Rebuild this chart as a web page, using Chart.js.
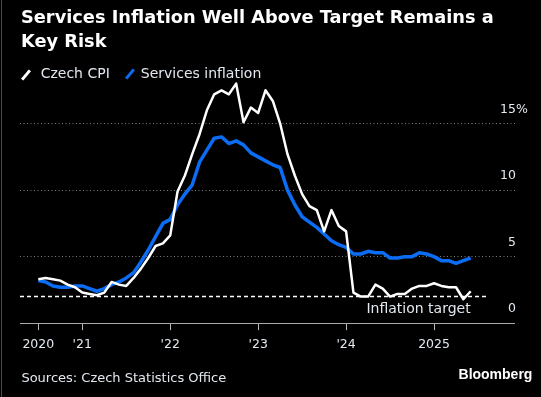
<!DOCTYPE html>
<html>
<head>
<meta charset="utf-8">
<script src="https://cdn.jsdelivr.net/npm/chart.js@4.4.1/dist/chart.umd.min.js"></script>
<style>
html,body{margin:0;padding:0;background:#000;}
#wrap{position:relative;width:541px;height:397px;overflow:hidden;background:#000;}
#c{position:absolute;left:0;top:0;}
.t{position:absolute;white-space:nowrap;margin:0;}
#title{left:21px;top:5.4px;font:bold 17.8px/23.8px 'DejaVu Sans';color:#fff;}
.lg{top:65.9px;font:14px/14px 'DejaVu Sans';color:#e3e9f0;}
#lg0{left:40.7px;}
#lg1{left:140.8px;}
.sw{position:absolute;width:3px;height:12px;transform:translate(-50%,-50%) rotate(40deg);}
#sw0{left:25.5px;top:75.2px;}
#sw1{left:130px;top:73.5px;}
#src{left:21.4px;top:371px;font:13px/13px 'DejaVu Sans';color:#e3e9f0;}
#bb{right:8.6px;top:366.9px;font:bold 14px/14px 'Liberation Sans';color:#fff;}
#edge{position:absolute;left:1px;top:0;width:1px;height:397px;background:#4a4a4a;}
</style>
</head>
<body>
<div id="wrap">
  <canvas id="c" width="541" height="397"></canvas>
  <div id="edge"></div>
  <div id="title" class="t">Services Inflation Well Above Target Remains a<br>Key Risk</div>
  <span id="sw0" class="sw"></span><div id="lg0" class="t lg"></div>
  <span id="sw1" class="sw"></span><div id="lg1" class="t lg"></div>
  <div id="src" class="t">Sources: Czech Statistics Office</div>
  <div id="bb" class="t">Bloomberg</div>
</div>
<script>
// ---- Data (monthly, month-end) ----
const months = [
  'Jun 2020','Jul 2020','Aug 2020','Sep 2020','Oct 2020','Nov 2020','Dec 2020',
  'Jan 2021','Feb 2021','Mar 2021','Apr 2021','May 2021','Jun 2021','Jul 2021','Aug 2021','Sep 2021','Oct 2021','Nov 2021','Dec 2021',
  'Jan 2022','Feb 2022','Mar 2022','Apr 2022','May 2022','Jun 2022','Jul 2022','Aug 2022','Sep 2022','Oct 2022','Nov 2022','Dec 2022',
  'Jan 2023','Feb 2023','Mar 2023','Apr 2023','May 2023','Jun 2023','Jul 2023','Aug 2023','Sep 2023','Oct 2023','Nov 2023','Dec 2023',
  'Jan 2024','Feb 2024','Mar 2024','Apr 2024','May 2024','Jun 2024','Jul 2024','Aug 2024','Sep 2024','Oct 2024','Nov 2024','Dec 2024',
  'Jan 2025','Feb 2025','Mar 2025','Apr 2025','May 2025'
];
const czechCPI = [
  3.3, 3.4, 3.3, 3.2, 2.9, 2.7, 2.3,
  2.2, 2.1, 2.3, 3.1, 2.9, 2.8, 3.4, 4.1, 4.9, 5.8, 6.0, 6.6,
  9.9, 11.1, 12.7, 14.2, 16.0, 17.2, 17.5, 17.2, 18.0, 15.1, 16.2, 15.8,
  17.5, 16.7, 15.0, 12.7, 11.1, 9.7, 8.8, 8.5, 6.9, 8.5, 7.3, 6.9,
  2.3, 2.0, 2.0, 2.9, 2.6, 2.0, 2.2, 2.2, 2.6, 2.8, 2.8, 3.0,
  2.8, 2.7, 2.7, 1.8, 2.4
];
const servicesInflation = [
  3.2, 3.1, 2.8, 2.7, 2.7, 2.8, 2.8,
  2.6, 2.4, 2.6, 2.9, 3.1, 3.4, 3.8, 4.6, 5.5, 6.5, 7.5, 7.8,
  8.9, 9.7, 10.4, 12.1, 13.0, 13.9, 14.0, 13.5, 13.7, 13.4, 12.8, 12.5,
  12.2, 11.9, 11.7, 10.0, 8.9, 8.0, 7.6, 7.2, 6.7, 6.2, 5.9, 5.7,
  5.2, 5.2, 5.4, 5.3, 5.3, 4.9, 4.9, 5.0, 5.0, 5.3, 5.2, 5.0,
  4.7, 4.7, 4.5, 4.7, 4.9
];
const inflationTarget = 2;
const seriesNames = ['Czech CPI', 'Services inflation'];
const seriesColors = ['#ffffff', '#0b6cf4'];
const targetLabel = 'Inflation target';
const xTickMonths = ['Jun 2020','Dec 2020','Dec 2021','Dec 2022','Dec 2023','Dec 2024'];
const xTickLabels = ['2020', "'21", "'22", "'23", "'24", '2025'];
const yTickValues = [0, 5, 10, 15];
const yTickLabels = ['0', '5', '10', '15%'];

// ---- Legend (HTML) ----
seriesNames.forEach((n, i) => {
  document.getElementById('lg' + i).textContent = n;
  document.getElementById('sw' + i).style.background = seriesColors[i];
});

// ---- Chart ----
Chart.defaults.font.family = "'DejaVu Sans', sans-serif";
const X_MIN = -2.5, X_MAX = 63, Y_MAX = 18.5;
const toPts = arr => arr.map((v, i) => ({x: i, y: v}));
const xTickValues = xTickMonths.map(m => months.indexOf(m));
const gridDash = [1, 2.5];
const isZero = c => !!(c && c.tick && c.tick.value === 0);
const labelColor = '#e3e9f0';

const targetLabelPlugin = {
  id: 'targetLabel',
  afterDatasetsDraw(chart) {
    const {ctx, scales: {x, y}} = chart;
    ctx.save();
    ctx.font = "14px 'DejaVu Sans'";
    ctx.fillStyle = labelColor;
    ctx.textAlign = 'right';
    ctx.textBaseline = 'alphabetic';
    ctx.fillText(targetLabel, x.getPixelForValue(months.length - 1), y.getPixelForValue(inflationTarget) + 16);
    ctx.restore();
  }
};

new Chart(document.getElementById('c'), {
  type: 'line',
  data: {
    datasets: [
      {label: seriesNames[0], data: toPts(czechCPI), borderColor: seriesColors[0], borderWidth: 2.5,
       pointRadius: 0, pointHoverRadius: 0, tension: 0, fill: false, borderJoinStyle: 'round'},
      {label: seriesNames[1], data: toPts(servicesInflation), borderColor: seriesColors[1], borderWidth: 3.5,
       pointRadius: 0, pointHoverRadius: 0, tension: 0, fill: false, borderJoinStyle: 'round'},
      {label: targetLabel, data: [{x: X_MIN, y: inflationTarget}, {x: months.length + 1.5, y: inflationTarget}],
       borderColor: '#ffffff', borderWidth: 1.5, borderDash: [4, 3], pointRadius: 0, pointHoverRadius: 0, fill: false}
    ]
  },
  options: {
    responsive: false,
    animation: false,
    devicePixelRatio: 1,
    layout: {padding: {left: 20, right: 0, top: 77, bottom: 33.8}},
    plugins: {legend: {display: false}, tooltip: {enabled: false}, title: {display: false}},
    scales: {
      x: {
        type: 'linear', position: 'bottom', min: X_MIN, max: X_MAX,
        afterBuildTicks: s => { s.ticks = xTickValues.map(v => ({value: v})); },
        afterFit: s => { s.height = 40; },
        grid: {drawOnChartArea: false, drawTicks: true, tickLength: 7, color: '#b4b4b4', tickColor: '#b4b4b4', lineWidth: 1},
        border: {display: false},
        ticks: {autoSkip: false, maxRotation: 0, minRotation: 0, padding: 7.5, color: labelColor,
                font: {size: 12.5},
                callback: v => { const k = xTickValues.indexOf(v); return k >= 0 ? xTickLabels[k] : ''; }}
      },
      y: {
        type: 'linear', position: 'right', min: 0, max: Y_MAX,
        afterBuildTicks: s => { s.ticks = yTickValues.map(v => ({value: v})); },
        afterFit: s => { s.width = 41; },
        grid: {
          drawOnChartArea: true, drawTicks: true, tickLength: 15, lineWidth: 1,
          color: c => isZero(c) ? '#a8a8a8' : '#7c7c7c',
          tickColor: c => isZero(c) ? '#a8a8a8' : '#7c7c7c',
          tickBorderDash: c => isZero(c) ? [] : gridDash
        },
        border: {display: false, dash: c => isZero(c) ? [] : gridDash},
        ticks: {
          padding: -15, crossAlign: 'near', labelOffset: -14, color: labelColor, font: {size: 12.5},
          callback: v => { const k = yTickValues.indexOf(v); const l = k >= 0 ? yTickLabels[k] : ''; return l.length === 1 ? '\u2007' + l : l; }
        }
      }
    }
  },
  plugins: [targetLabelPlugin]
});
</script>
</body>
</html>
